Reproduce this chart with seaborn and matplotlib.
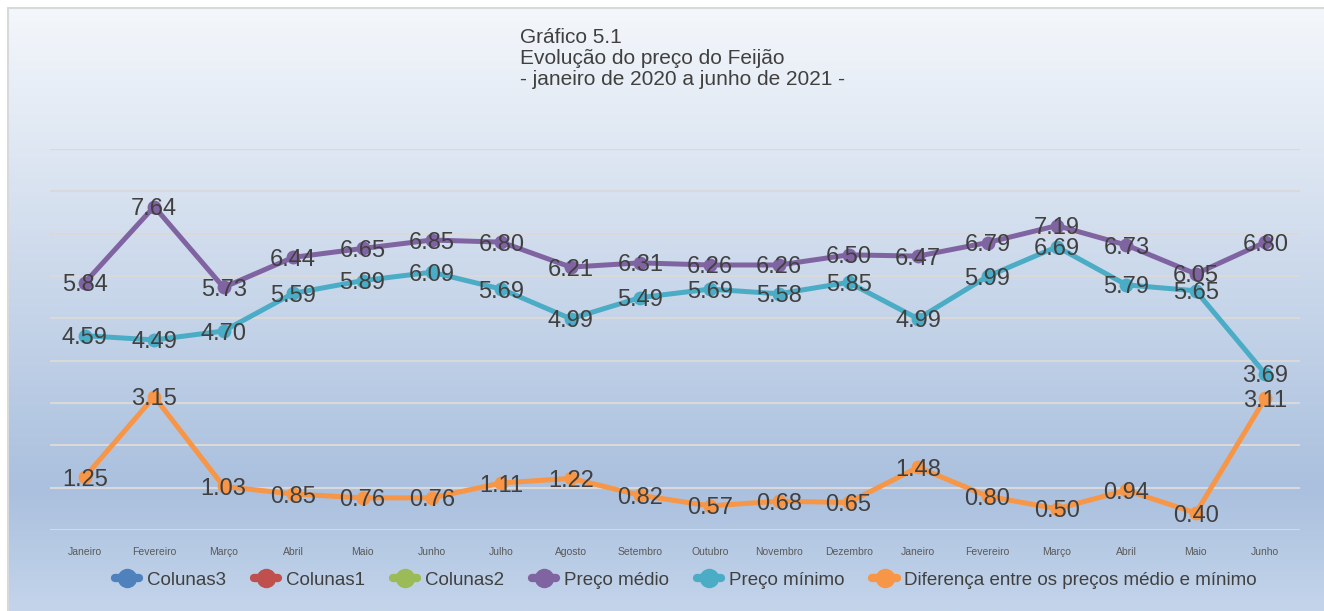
import numpy as np
import pandas as pd
import seaborn as sns
import matplotlib.pyplot as plt
from matplotlib.lines import Line2D
from matplotlib.colors import LinearSegmentedColormap
from matplotlib.patches import Rectangle

# Data
meses = ['Janeiro', 'Fevereiro', 'Março', 'Abril', 'Maio', 'Junho', 'Julho', 'Agosto',
         'Setembro', 'Outubro', 'Novembro', 'Dezembro', 'Janeiro', 'Fevereiro', 'Março',
         'Abril', 'Maio', 'Junho']
preco_medio = [5.84, 7.64, 5.73, 6.44, 6.65, 6.85, 6.80, 6.21, 6.31, 6.26, 6.26, 6.50,
               6.47, 6.79, 7.19, 6.73, 6.05, 6.80]
preco_minimo = [4.59, 4.49, 4.70, 5.59, 5.89, 6.09, 5.69, 4.99, 5.49, 5.69, 5.58, 5.85,
                4.99, 5.99, 6.69, 5.79, 5.65, 3.69]
diferenca = [1.25, 3.15, 1.03, 0.85, 0.76, 0.76, 1.11, 1.22, 0.82, 0.57, 0.68, 0.65,
             1.48, 0.80, 0.50, 0.94, 0.40, 3.11]

series = ['Preço médio', 'Preço mínimo', 'Diferença entre os preços médio e mínimo']
cores = {'Colunas3': '#4F81BD', 'Colunas1': '#C0504D', 'Colunas2': '#9BBB59',
         'Preço médio': '#8064A2', 'Preço mínimo': '#4BACC6',
         'Diferença entre os preços médio e mínimo': '#F79646'}

pos = list(range(len(meses)))
df = pd.concat([
    pd.DataFrame({'pos': pos, 'valor': vals, 'serie': nome})
    for nome, vals in zip(series, [preco_medio, preco_minimo, diferenca])
])

sns.set_style('white')
plt.rcParams['font.family'] = ['Liberation Sans', 'DejaVu Sans']
texto = '#404040'

fig = plt.figure(figsize=(13.24, 6.11), dpi=100)

# gradient background of the chart area
bg = fig.add_axes([8 / 1324, 0, 1 - 8 / 1324, 1 - 8 / 611], zorder=-10)
grad = LinearSegmentedColormap.from_list('g', [(0, '#F4F7FB'), (0.8, '#AAC0DE'), (1, '#C4D5EB')])
bg.imshow(np.linspace(0, 1, 256).reshape(-1, 1), aspect='auto', cmap=grad,
          extent=[0, 1, 0, 1], origin='upper')
bg.set_axis_off()
fig.patches.append(Rectangle((8 / 1324, -0.01), 1.0, 1 - 8 / 611 + 0.01,
                             transform=fig.transFigure, fill=False,
                             edgecolor='#D9D9D9', linewidth=1.5, zorder=-5))

ax = fig.add_axes([50 / 1324, 81 / 611, 1250 / 1324, 381 / 611])
ax.set_facecolor('none')
sns.lineplot(data=df, x='pos', y='valor', hue='serie', hue_order=series,
             palette=cores, marker='o', markersize=10, markeredgewidth=0,
             linewidth=3.6, legend=False, ax=ax)

for nome, vals in zip(series, [preco_medio, preco_minimo, diferenca]):
    for x, v in zip(pos, vals):
        ax.text(x, v, f'{v:.2f}', ha='center', va='center_baseline',
                fontsize=17, color=texto, zorder=5)

ax.set_xlim(-0.5, len(meses) - 0.5)
ax.set_ylim(0, 9)
ax.set_yticks(range(10))
ax.set_yticklabels([])
ax.set_xticks(pos)
ax.set_xticklabels(meses, fontsize=7.5, color='#595959',
                   family=['Liberation Sans Narrow', 'Liberation Sans'])
ax.tick_params(axis='both', length=0)
ax.tick_params(axis='x', pad=12)
ax.grid(axis='y', color='#D9D9D9', linewidth=1.5)
ax.grid(axis='x', visible=False)
ax.set_xlabel('')
ax.set_ylabel('')
for s in ax.spines.values():
    s.set_visible(False)

fig.text(520 / 1324, 1 - 28 / 611,
         'Gráfico 5.1\nEvolução do preço do Feijão\n- janeiro de 2020 a junho de 2021 -',
         ha='left', va='top', fontsize=15, color=texto, linespacing=1.12)

nomes_leg = ['Colunas3', 'Colunas1', 'Colunas2'] + series
handles = [Line2D([], [], color=cores[n], marker='o', markersize=14, markeredgewidth=0,
                  linewidth=6) for n in nomes_leg]
fig.legend(handles, nomes_leg, loc='center', bbox_to_anchor=(0.518, 31 / 611), ncol=6,
           frameon=False, fontsize=13.5, handlelength=1.3, handletextpad=0.4,
           columnspacing=1.5, labelcolor=texto)

fig.savefig('out.png', dpi=100)
